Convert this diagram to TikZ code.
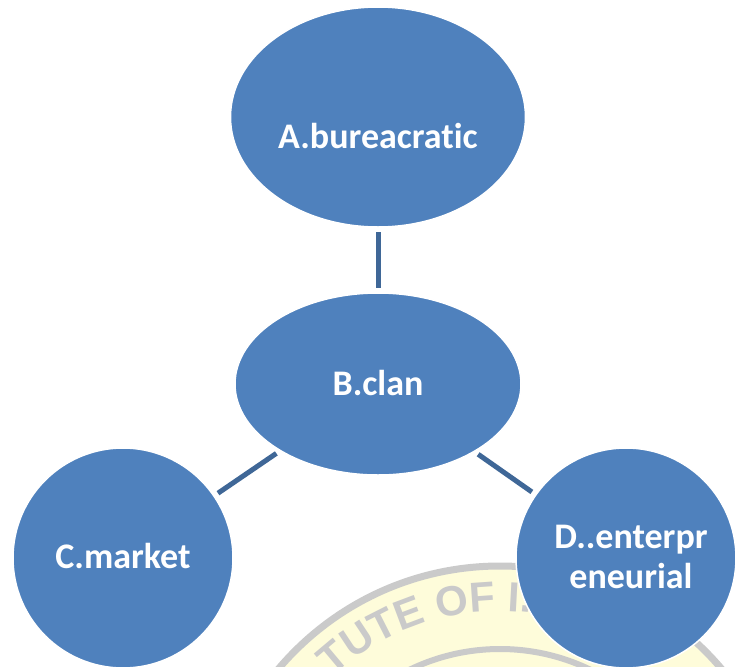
\documentclass[tikz,border=0pt]{standalone}
\usepackage{fontspec}
\setmainfont{Carlito}[Ligatures=NoCommon]
\newfontfamily\sealfont{Liberation Sans}
\usetikzlibrary{shapes.geometric,decorations.text}
\definecolor{bubble}{HTML}{4F81BD}
\definecolor{linkblue}{HTML}{3F6797}
\definecolor{sealgray}{HTML}{CACACA}
\definecolor{sealfill}{HTML}{FEFCDA}
\begin{document}
\begin{tikzpicture}[x=1pt,y=-1pt,
  bubble/.style={ellipse, fill=bubble, draw=white, line width=1.5pt, inner sep=0pt, outer sep=0pt},
  lbl/.style={text=white, font=\bfseries\fontsize{36}{40}\selectfont, anchor=base, inner sep=0pt},
  link/.style={draw=linkblue, line width=5pt, shorten <=5pt, shorten >=5pt}]
\useasboundingbox (0,0) rectangle (737,667);
\clip (0,0) rectangle (737,667);
\fill[white] (0,0) rectangle (737,667);

% faded seal in the background
\begin{scope}[shift={(500,856)}]
  \fill[sealfill] (0,0) circle[radius=290pt];
  \draw[sealgray, line width=7pt] (0,0) circle[radius=290pt];
  \draw[sealgray, line width=6pt] (0,0) circle[radius=207pt];
  \path[decorate, decoration={text along path, text color=sealgray,
      text={|\sealfont\bfseries\fontsize{42}{42}\selectfont|TUTE OF I.}}]
    (133:245pt) arc[start angle=133, end angle=60, radius=245pt];
\end{scope}

% bubbles
\node[bubble, minimum width=295pt, minimum height=220pt] (A) at (378,117) {};
\node[bubble, minimum width=286pt, minimum height=182pt] (B) at (378,384) {};
\node[bubble, circle, minimum size=220pt] (C) at (123,558) {};
\node[bubble, circle, minimum size=220pt] (D) at (626,558) {};

% connectors
\draw[link] (A) -- (B);
\draw[link] (B) -- (C);
\draw[link] (B) -- (D);

% captions
\node[lbl] (At) at (378,148) {A.bureacratic};
\node[lbl] (Bt) at (378,395) {B.clan};
\node[lbl] (Ct) at (123,568) {C.market};
\node[lbl] (Dt1) at (631,548) {D..enterpr};
\node[lbl] (Dt2) at (631,588) {eneurial};
\end{tikzpicture}
\end{document}
